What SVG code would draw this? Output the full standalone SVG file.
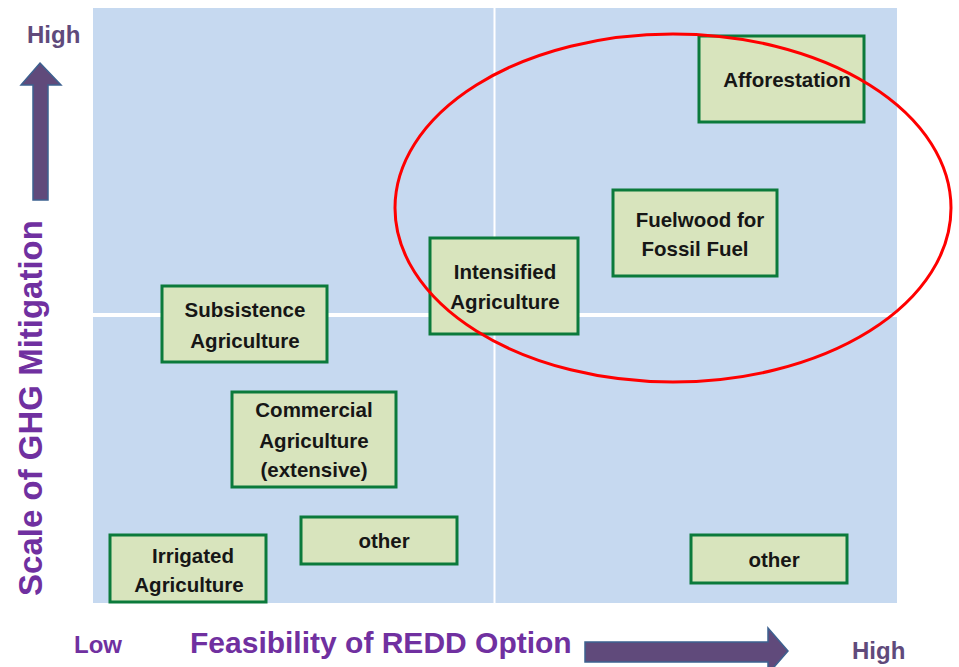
<svg xmlns="http://www.w3.org/2000/svg" width="959" height="667" viewBox="0 0 959 667">
  <style>
    .panel { fill: #c6d9f0; }
    .divider { stroke: #ffffff; }
    .box { fill: #d8e4bd; stroke: #0b7a3b; stroke-width: 3; }
    .lbl { font-family: "Liberation Sans", Arial, sans-serif; font-weight: bold; font-size: 20.5px; fill: #161616; text-anchor: middle; }
    .axis { font-family: "Liberation Sans", Arial, sans-serif; font-weight: bold; fill: #7030a0; }
    .end { font-family: "Liberation Sans", Arial, sans-serif; font-weight: bold; font-size: 24px; }
    .arrow { fill: #604a7b; stroke: #3d6190; stroke-width: 1.5; }
    .zone { fill: none; stroke: #ff0000; stroke-width: 3; }
  </style>

  <!-- background quadrant panel -->
  <rect class="panel" x="93" y="8" width="804" height="595"/>
  <line class="divider" x1="494.5" y1="8" x2="494.5" y2="603" stroke-width="2"/>
  <line class="divider" x1="93" y1="315" x2="897" y2="315" stroke-width="4"/>

  <!-- options -->
  <g id="afforestation">
    <rect class="box" x="699" y="36" width="165" height="86"/>
    <text class="lbl" x="787" y="87">Afforestation</text>
  </g>
  <g id="fuelwood">
    <rect class="box" x="613" y="190" width="164" height="86"/>
    <text class="lbl" x="700" y="227">Fuelwood for</text>
    <text class="lbl" x="695" y="256">Fossil Fuel</text>
  </g>
  <g id="intensified">
    <rect class="box" x="430" y="238" width="148" height="96"/>
    <text class="lbl" x="505" y="279">Intensified</text>
    <text class="lbl" x="505" y="309">Agriculture</text>
  </g>
  <g id="subsistence">
    <rect class="box" x="162" y="286" width="165" height="76"/>
    <text class="lbl" x="245" y="317">Subsistence</text>
    <text class="lbl" x="245" y="348">Agriculture</text>
  </g>
  <g id="commercial">
    <rect class="box" x="232" y="392" width="164" height="95"/>
    <text class="lbl" x="314" y="417">Commercial</text>
    <text class="lbl" x="314" y="448">Agriculture</text>
    <text class="lbl" x="314" y="477">(extensive)</text>
  </g>
  <g id="other-left">
    <rect class="box" x="301" y="517" width="156" height="47"/>
    <text class="lbl" x="384" y="548">other</text>
  </g>
  <g id="irrigated">
    <rect class="box" x="110" y="535" width="156" height="67"/>
    <text class="lbl" x="193" y="563">Irrigated</text>
    <text class="lbl" x="189" y="592">Agriculture</text>
  </g>
  <g id="other-right">
    <rect class="box" x="691" y="535" width="156" height="48"/>
    <text class="lbl" x="774" y="567">other</text>
  </g>

  <!-- highlighted region -->
  <g id="connectors">
    <ellipse class="zone" cx="673" cy="208" rx="278" ry="174"/>
  </g>

  <!-- axes -->
  <g id="axes">
    <polygon class="arrow" points="40,63 61,85 48,85 48,200 33,200 33,85 21,85"/>
    <polygon class="arrow" points="585,642 768,642 768,628 788,651 768,674 768,662 585,662"/>
    <text class="end" x="27" y="43" fill="#604a7b">High</text>
    <text class="axis" font-size="33" transform="translate(42,408) rotate(-90)" text-anchor="middle">Scale of GHG Mitigation</text>
    <text class="end" x="74" y="653" fill="#7030a0">Low</text>
    <text class="axis" font-size="30" x="190" y="653">Feasibility of REDD Option</text>
    <text class="end" x="852" y="659" fill="#604a7b">High</text>
  </g>
</svg>
